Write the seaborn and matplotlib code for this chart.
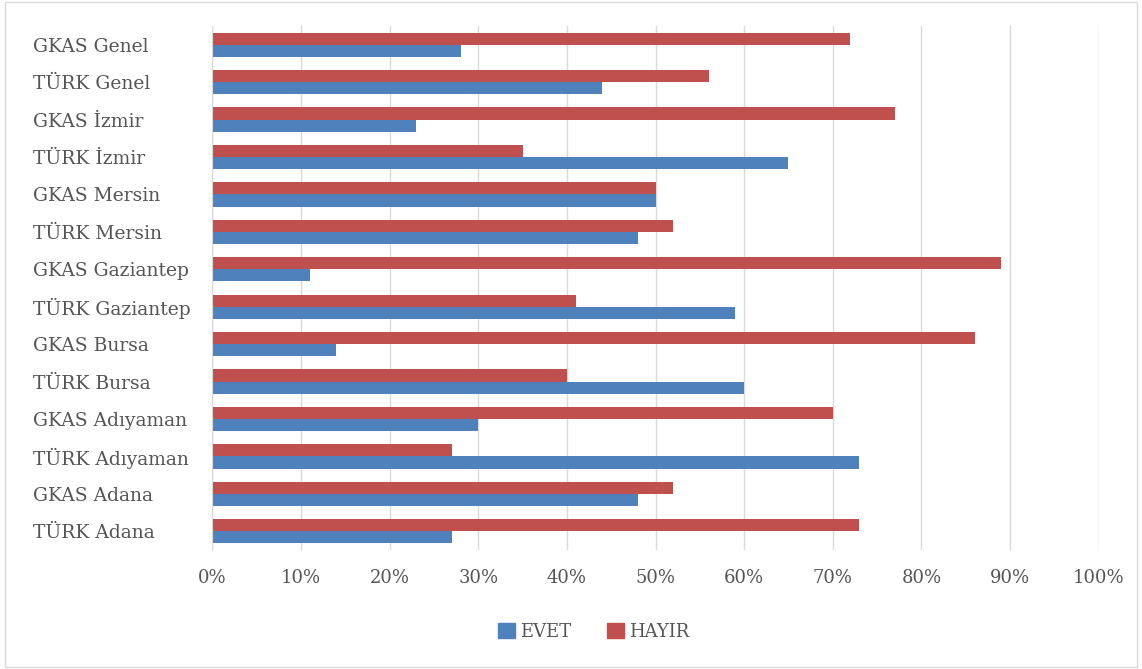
import matplotlib
matplotlib.use("Agg")
import matplotlib.pyplot as plt
import matplotlib.patches as mpatches
import pandas as pd
import seaborn as sns

# Data
categories = ['GKAS Genel', 'TÜRK Genel', 'GKAS İzmir', 'TÜRK İzmir',
              'GKAS Mersin', 'TÜRK Mersin', 'GKAS Gaziantep', 'TÜRK Gaziantep',
              'GKAS Bursa', 'TÜRK Bursa', 'GKAS Adıyaman', 'TÜRK Adıyaman',
              'GKAS Adana', 'TÜRK Adana']
evet = [28, 44, 23, 65, 50, 48, 11, 59, 14, 60, 30, 73, 48, 27]
hayir = [72, 56, 77, 35, 50, 52, 89, 41, 86, 40, 70, 27, 52, 73]
x_ticks = [0, 10, 20, 30, 40, 50, 60, 70, 80, 90, 100]

colors = {'EVET': '#4F81BD', 'HAYIR': '#C0504D'}
text_col = '#555555'

df = pd.DataFrame({'kategori': categories, 'EVET': evet, 'HAYIR': hayir})
long_df = df.melt(id_vars='kategori', var_name='cevap', value_name='oran')

sns.set_style('white')
plt.rcParams['font.family'] = ['DejaVu Serif', 'DejaVu Sans']

fig = plt.figure(figsize=(11.42, 6.69), dpi=100)
ax = fig.add_axes([0.186, 0.178, 0.776, 0.783])

sns.barplot(data=long_df, y='kategori', x='oran', hue='cevap',
            hue_order=['HAYIR', 'EVET'], order=categories, palette=colors,
            orient='h', width=0.65, saturation=1, linewidth=0, ax=ax, legend=False)

ax.set_xlim(0, 100)
ax.set_xticks(x_ticks)
ax.set_xticklabels([f'{t}%' for t in x_ticks], color=text_col, fontsize=13)
ax.tick_params(axis='y', labelsize=13.5, labelcolor=text_col, length=0, pad=0)
ax.tick_params(axis='x', length=0, pad=14)
ax.set_xlabel('')
ax.set_ylabel('')
ax.xaxis.grid(True, color='#D9D9D9', linewidth=1)
ax.set_axisbelow(True)
for s in ['top', 'right', 'bottom']:
    ax.spines[s].set_visible(False)
ax.spines['left'].set_color('#D9D9D9')
for lbl in ax.get_yticklabels():
    lbl.set_horizontalalignment('left')
    lbl.set_x(-0.203)

handles = [mpatches.Patch(color=colors['EVET'], label='EVET'),
           mpatches.Patch(color=colors['HAYIR'], label='HAYIR')]
leg = fig.legend(handles=handles, loc='center', bbox_to_anchor=(0.52, 0.055), ncol=2,
                 frameon=False, fontsize=13, handlelength=0.9, handleheight=0.9,
                 handletextpad=0.3, columnspacing=2.0)
for t in leg.get_texts():
    t.set_color(text_col)

fig.patches.append(mpatches.Rectangle((0.004, 0.003), 0.992, 0.994, transform=fig.transFigure,
                                      fill=False, edgecolor='#D9D9D9', linewidth=1))

fig.savefig('out.png', dpi=100)
